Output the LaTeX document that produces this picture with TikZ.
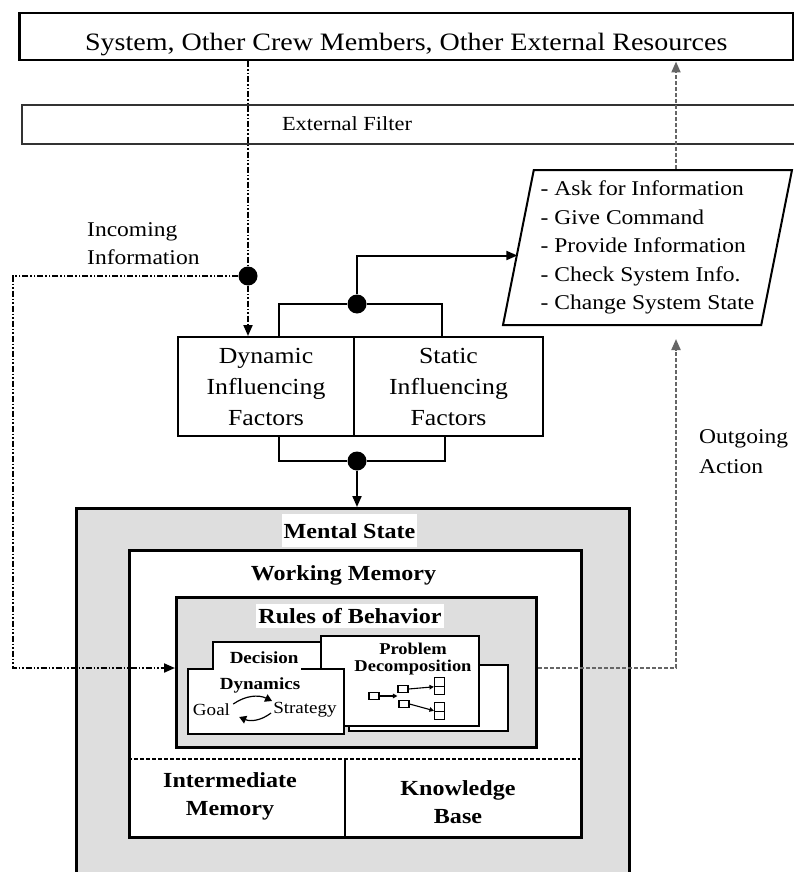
\documentclass[tikz,border=0pt]{standalone}
\usepackage{fontspec}
\setmainfont{Liberation Serif}[FakeStretch=1.12]
\usetikzlibrary{arrows.meta,shapes.geometric}

\begin{document}
\begin{tikzpicture}[x=1pt,y=-1pt,every node/.style={inner sep=0pt},
  box/.style={draw,line width=2pt,align=center,font=\fontsize{23}{31}\selectfont},
  heavy/.style={draw,line width=3pt,anchor=north west},
  inbox/.style={draw,line width=1.5pt,fill=white,anchor=north west},
  tag/.style={fill=white,inner xsep=2pt,font=\bfseries\fontsize{21.5}{24}\selectfont},
  bold/.style={font=\bfseries\fontsize{21.5}{28}\selectfont,align=center},
  plain/.style={font=\fontsize{21}{28}\selectfont,align=left},
  dot/.style={circle,fill=black,minimum size=19pt},
  tiny/.style={draw,line width=1.1pt,minimum width=10pt,minimum height=6.5pt},
  tinyarrow/.style={line width=1.1pt,-{Triangle[length=4.5pt,width=4.5pt]}},
  cycle/.style={line width=1.2pt,-{Triangle[length=7pt,width=8pt]}},
  link/.style={line width=2pt,-{Triangle[length=11pt,width=9pt]}},
  infoline/.style={line width=2pt,dash pattern=on 6pt off 2pt on 1.5pt off 2pt on 1.5pt off 2pt},
  actline/.style={line width=2pt,draw=black!60,dash pattern=on 4pt off 2pt,-{Triangle[length=11pt,width=9pt]},color=black!60}]
\useasboundingbox (0,0) rectangle (793,872);

\node[heavy,line width=2.5pt,minimum width=774pt,minimum height=47pt,text height=27pt,text depth=0pt,font=\fontsize{25}{30}\selectfont] (world) at (18,12) {System, Other Crew Members, Other External Resources};
\node[draw,line width=2pt,draw=black!80,anchor=north west,minimum width=780pt,minimum height=39pt] (filter) at (21,104) {};
\node[font=\fontsize{20}{24}\selectfont] (filtertxt) at (347,124) {External Filter};

\node[trapezium,draw,line width=2pt,trapezium left angle=77,trapezium right angle=103,trapezium stretches body=true,minimum width=289pt,minimum height=155pt,plain,font=\fontsize{21}{28.5}\selectfont] (actions) at (647.5,247.5) {- Ask for Information\\- Give Command\\- Provide Information\\- Check System Info.\\- Change System State};

\node[box,minimum width=176pt,minimum height=99pt] (dyn) at (266,386.5) {Dynamic\\Influencing\\Factors};
\node[box,minimum width=189pt,minimum height=99pt] (stat) at (448.5,386.5) {Static\\Influencing\\Factors};

\node[plain,anchor=west] (intxt) at (87,243.5) {Incoming\\Information};
\node[plain,anchor=west,font=\fontsize{21}{30}\selectfont] (outtxt) at (699,452) {Outgoing\\Action};

\node[heavy,fill=black!13,minimum width=553pt,minimum height=373pt] (mental) at (75,507) {};
\node[heavy,fill=white,minimum width=452pt,minimum height=287pt] (wm) at (128,549) {};
\node[tag,minimum height=33pt,anchor=south] (mentaltag) at (349.5,547.5) {Mental State};
\node[bold] (wmtag) at (343.5,575) {Working Memory};
\node[heavy,fill=black!13,minimum width=360pt,minimum height=150pt] (rules) at (175,596) {};
\node[tag,minimum height=24pt] (rulestag) at (350,616) {Rules of Behavior};

\node[inbox,minimum width=159pt,minimum height=66pt] (probback) at (348,664) {};
\node[inbox,minimum width=115pt,minimum height=50pt] (decback) at (212,641) {};
\node[inbox,minimum width=158pt,minimum height=90pt] (prob) at (320,635) {};
\node[font=\bfseries\fontsize{16.5}{17}\selectfont,align=center] (probtxt) at (413,659) {Problem\\Decomposition};
\node[inbox,minimum width=156pt,minimum height=65pt] (dynam) at (187,668) {};
\node[fill=white,text width=83pt,inner xsep=2pt,minimum height=25pt,align=right,font=\bfseries\fontsize{17}{20}\selectfont] (dectag) at (257,657.5) {Decision};
\node[font=\bfseries\fontsize{17}{20}\selectfont] (dyntxt) at (260,685) {Dynamics};
\node[font=\fontsize{17}{20}\selectfont] (goal) at (211.5,710) {Goal};
\node[font=\fontsize{17}{20}\selectfont] (strat) at (305,710) {Strategy};
\draw[cycle] ([xshift=3pt,yshift=6pt]goal.east) to[bend left=30] ([xshift=-1pt,yshift=9pt]strat.west);
\draw[cycle] ([xshift=-2pt,yshift=-3pt]strat.west) to[bend left=30] ([xshift=9pt,yshift=-7pt]goal.east);

\node[tiny] (t1) at (374,696) {};
\node[tiny] (t2) at (403,689) {};
\node[tiny] (t3) at (404,704) {};
\node[tiny,minimum height=8.5pt] (s1a) at (439.5,682) {};
\node[tiny,minimum height=8.5pt] (s1b) at (439.5,690.5) {};
\node[tiny,minimum height=8.5pt] (s2a) at (439.5,707) {};
\node[tiny,minimum height=8.5pt] (s2b) at (439.5,715.5) {};
\draw[tinyarrow] (t1.east) -- (t1 -| t2.west);
\draw[tinyarrow] (t2.east) -- (s1a.south west);
\draw[tinyarrow] (t3.east) -- (s2b.north west);

\draw[line width=1.5pt,dash pattern=on 4pt off 2pt] ([yshift=80pt]wm.south west) -- ([yshift=80pt]wm.south east);
\draw[line width=2pt] ([xshift=-11pt,yshift=80pt]wm.south) -- ([xshift=-11pt]wm.south);
\node[bold] (imem) at (230,796) {Intermediate\\Memory};
\node[bold] (kb) at (458,802.5) {Knowledge\\Base};

\node[dot] (indot) at (248,276) {};
\node[dot] (updot) at (357,304) {};
\node[dot] (lowdot) at (357,461) {};
\coordinate (inbend) at (13,668);
\coordinate (outbend) at (676,668);

\draw[infoline] (world.south -| indot) -- (indot);
\draw[infoline,-{Triangle[length=11pt,width=9pt]}] (indot) -- (indot |- dyn.north);
\draw[infoline,-{Triangle[length=11pt,width=9pt]}] (indot) -| (inbend) -- (inbend -| rules.west);

\draw[line width=2pt] ([xshift=13pt]dyn.north) |- (updot) -| ([xshift=-6.5pt]stat.north);
\draw[link] (updot) |- ([yshift=-8pt]actions.west);
\draw[line width=2pt] ([xshift=13pt]dyn.south) |- (lowdot) -| ([xshift=-3.5pt]stat.south);
\draw[link] (lowdot) -- (lowdot |- mental.north);

\draw[actline,shorten >=13pt] (rules.east |- outbend) -- (outbend) -- (outbend |- actions.south);
\draw[actline] (actions.north -| outbend) -- (world.south -| outbend);
\end{tikzpicture}
\end{document}
